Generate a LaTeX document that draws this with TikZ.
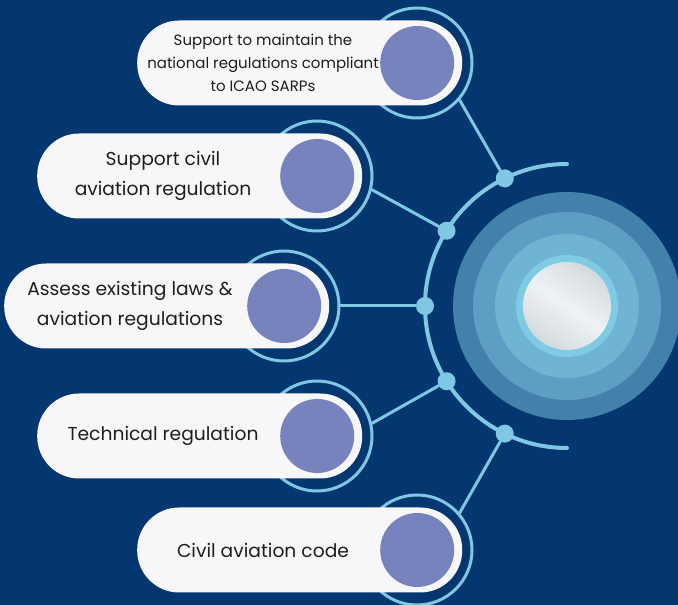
\documentclass[tikz,border=0pt]{standalone}
\usepackage{fontspec}
\setmainfont{Poppins}
\usetikzlibrary{positioning,calc}
\definecolor{navy}{HTML}{04376F}
\definecolor{skyline}{HTML}{7EC8E3}
\definecolor{ringA}{HTML}{4381AA}
\definecolor{ringB}{HTML}{5E9DC4}
\definecolor{ringC}{HTML}{6FB4D3}
\definecolor{ringD}{HTML}{7ECBE3}
\definecolor{silverA}{HTML}{D3DADE}
\definecolor{silverB}{HTML}{EEF2F4}
\definecolor{pillwhite}{HTML}{F7F7FA}
\definecolor{discpurple}{HTML}{7783BD}
\definecolor{ink}{HTML}{1E1E1E}
\begin{document}
\begin{tikzpicture}[x=1pt, y=1pt, line join=round, line cap=round,
    pill/.style={fill=pillwhite, rounded corners=42pt, minimum width=325pt, minimum height=85pt, inner sep=0pt, anchor=west},
    disc/.style={circle, fill=discpurple, minimum size=74pt, inner sep=0pt},
    halo/.style={circle, draw=skyline, line width=3pt, minimum size=110pt, inner sep=0pt},
    dot/.style={circle, fill=skyline, minimum size=18pt, inner sep=0pt},
    link/.style={draw=skyline, line width=3pt},
    lbl/.style={text=ink, align=center, font=\fontsize{18.7}{30}\selectfont}]
    \useasboundingbox (0,0) rectangle (678,605);
    \fill[navy] (0,0) rectangle (678,605);
    \coordinate (ctr) at (567,299); % centre of the target
    % target rings
    \foreach \r/\c in {114/ringA,94/ringB,72/ringC,51/ringD}
    \fill[\c] (ctr) circle (\r);
    \shade[top color=silverA, bottom color=silverA, middle color=silverB, shading angle=-35] (ctr) circle (44);
    % arc and dots
    \draw[skyline, line width=4pt] ($(ctr)+(0,142)$) arc[start angle=90, end angle=270, radius=142];
    \foreach \a [count=\i] in {116,148,180,212,244}
    \node[dot] (d\i) at ($(ctr)+(\a:142)$) {};
    % pills: halo, pill, disc
    \foreach \n/\x/\y in {1/137/542, 2/37/429, 3/4/299, 4/37/169, 5/137/55} {
        \node[halo] (r\n) at (\x+280,\y) {};
        \node[pill] (p\n) at (\x,\y) {};
        \node[disc, left=8pt of p\n.east] (c\n) {};
    }
    \foreach \n/\a in {1/-41,2/-14,3/0,4/13,5/41}
    \draw[link] (d\n) -- (r\n.\a);
    \node[lbl, font=\fontsize{15}{23}\selectfont] (t1) at ([xshift=126pt]p1.west) {Support to maintain the\\national regulations compliant\\to ICAO SARPs};
    \node[lbl] (t2) at ([xshift=126pt]p2.west) {Support civil\\aviation regulation};
    \node[lbl] (t3) at ([xshift=126pt]p3.west) {Assess existing laws \&\\aviation regulations};
    \node[lbl] (t4) at ([xshift=126pt]p4.west) {Technical regulation};
    \node[lbl] (t5) at ([xshift=126pt]p5.west) {Civil aviation code};
\end{tikzpicture}
\end{document}
